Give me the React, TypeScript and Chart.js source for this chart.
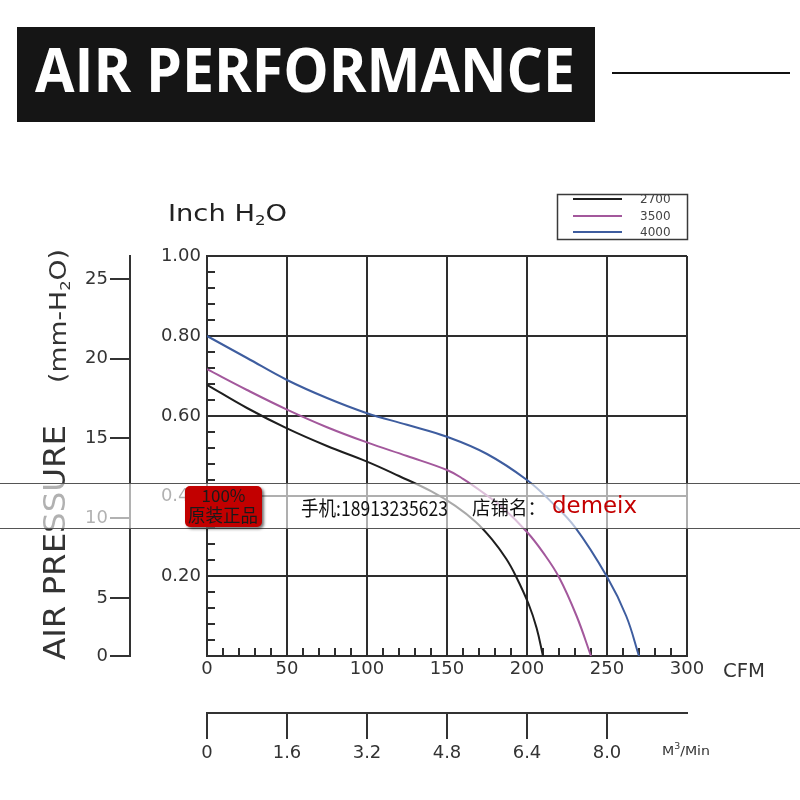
import React, { useEffect, useRef } from 'react';
import { Chart, registerables } from 'chart.js';
Chart.register(...registerables);

// ---------- data ----------
const SERIES_LABELS = ['2700', '3500', '4000'];
const SERIES_COLORS = ['#1e1e1e', '#a3589c', '#3e5d9f'];

const CFM_2700 = [0, 25, 50, 75, 100, 120, 140, 155, 168, 178, 187, 193, 201, 206, 210];
const P_2700 = [0.678, 0.62, 0.569, 0.525, 0.486, 0.45, 0.412, 0.376, 0.335, 0.292, 0.243, 0.2, 0.13, 0.07, 0];

const CFM_3500 = [0, 25, 50, 75, 100, 125, 150, 160, 172, 185, 200, 210, 220, 231, 240];
const P_3500 = [0.717, 0.665, 0.616, 0.572, 0.534, 0.5, 0.465, 0.443, 0.41, 0.37, 0.31, 0.259, 0.197, 0.1, 0];

const CFM_4000 = [0, 25, 50, 75, 100, 125, 150, 175, 200, 215, 230, 250, 262, 270];
const P_4000 = [0.8, 0.745, 0.69, 0.645, 0.607, 0.578, 0.548, 0.505, 0.44, 0.386, 0.322, 0.198, 0.1, 0];

const CFM_TICKS = [0, 50, 100, 150, 200, 250, 300];
const INCH_TICKS = [0, 0.2, 0.4, 0.6, 0.8, 1.0];
const M3_TICKS = [0, 1.6, 3.2, 4.8, 6.4, 8.0];
const M3_MAX = 9.6;
const MM_TICK_LABELS = ['0', '5', '10', '15', '20', '25'];
const MM_AXIS_MIN = 1.36;
const MM_AXIS_MAX = 26.44;

const TITLE = 'AIR PERFORMANCE';
const BADGE_LINES = ['100%', '原装正品'];
const PHONE_TEXT = '手机:18913235623';
const SHOP_TEXT = '店铺名：';
const SHOP_NAME = 'demeix';

// ---------- styles ----------
const FONT = "'DejaVu Sans'";
const CJK = "'Noto Sans CJK SC'";
const GRID = '#2e2e2e';
const TXT = '#333';

function drawParts(ctx: CanvasRenderingContext2D, parts: [string, number, number][], x: number, y: number, target: number, family: string) {
  ctx.save();
  let w = 0;
  for (const p of parts) {
    ctx.font = `${p[1]}px ${family}`;
    w += ctx.measureText(p[0]).width;
  }
  const sx = target ? target / w : 1;
  ctx.translate(x, y);
  ctx.scale(sx, 1);
  let cx = 0;
  for (const p of parts) {
    ctx.font = `${p[1]}px ${family}`;
    ctx.fillText(p[0], cx, p[2]);
    cx += ctx.measureText(p[0]).width;
  }
  ctx.restore();
}

function fitText(ctx: CanvasRenderingContext2D, text: string, x: number, y: number, target: number, font: string) {
  ctx.save();
  ctx.font = font;
  const w = ctx.measureText(text).width;
  ctx.translate(x, y);
  ctx.scale(target / w, 1);
  ctx.fillText(text, 0, 0);
  ctx.restore();
}

const minorTicks = {
  id: 'minorTicks',
  beforeDatasetsDraw(chart: any) {
    const { ctx, chartArea: ca, scales } = chart;
    const xs = scales.x, ys = scales.y;
    ctx.save();
    ctx.strokeStyle = GRID;
    ctx.lineWidth = 2;
    ctx.beginPath();
    for (let i = 0; i <= 25; i++) {
      const py = Math.round(ys.getPixelForValue(i * 0.04));
      ctx.moveTo(ca.left, py);
      ctx.lineTo(ca.left + 8, py);
    }
    for (let i = 0; i <= 30; i++) {
      const px = Math.round(xs.getPixelForValue(i * 10));
      ctx.moveTo(px, ca.bottom);
      ctx.lineTo(px, ca.bottom - 8);
    }
    ctx.stroke();
    ctx.restore();
  },
};

const decorations = {
  id: 'decorations',
  afterDraw(chart: any) {
    const ctx: CanvasRenderingContext2D = chart.ctx;
    const ca = chart.chartArea;
    ctx.save();
    ctx.textBaseline = 'alphabetic';
    ctx.textAlign = 'left';

    // banner
    ctx.fillStyle = '#151515';
    ctx.fillRect(17, 27, 578, 95);
    ctx.fillStyle = '#ffffff';
    fitText(ctx, TITLE, 35, 92, 540, "bold 61px 'Open Sans'");
    ctx.strokeStyle = '#111';
    ctx.lineWidth = 2;
    ctx.beginPath();
    ctx.moveTo(612, 73);
    ctx.lineTo(790, 73);
    ctx.stroke();

    // Inch H2O
    ctx.fillStyle = '#222';
    drawParts(ctx, [['Inch H', 23, 0], ['2', 14, 4], ['O', 23, 0]], 168, 221, 119, FONT);

    // CFM
    ctx.fillStyle = TXT;
    fitText(ctx, 'CFM', ca.right + 36, 677, 42, `19px ${FONT}`);
    // M3/Min
    drawParts(ctx, [['M', 12, 0], ['3', 8, -6], ['/Min', 12, 0]], 662, 755, 48, FONT);

    // vertical axis titles
    ctx.save();
    ctx.translate(65, 660);
    ctx.rotate(-Math.PI / 2);
    ctx.fillStyle = TXT;
    fitText(ctx, 'AIR PRESSURE', 0, 0, 235, `30px ${FONT}`);
    ctx.restore();
    ctx.save();
    ctx.translate(66, 383);
    ctx.rotate(-Math.PI / 2);
    ctx.fillStyle = TXT;
    drawParts(ctx, [['(mm-H', 23, 0], ['2', 14, 4], ['O)', 23, 0]], 0, 0, 134, FONT);
    ctx.restore();

    // legend
    ctx.fillStyle = '#fff';
    ctx.fillRect(557, 194, 131, 46);
    ctx.strokeStyle = '#3a3a3a';
    ctx.lineWidth = 1.5;
    ctx.strokeRect(557.5, 194.5, 130, 45);
    const ly = [199, 216, 232];
    chart.data.datasets.forEach((ds: any, i: number) => {
      ctx.strokeStyle = ds.borderColor;
      ctx.lineWidth = 2;
      ctx.beginPath();
      ctx.moveTo(573, ly[i]);
      ctx.lineTo(622, ly[i]);
      ctx.stroke();
      ctx.fillStyle = '#444';
      ctx.font = `12px ${FONT}`;
      ctx.textBaseline = 'middle';
      ctx.fillText(ds.label, 640, ly[i] + 1);
    });
    ctx.textBaseline = 'alphabetic';

    // watermark band
    ctx.fillStyle = 'rgba(255,255,255,0.62)';
    ctx.fillRect(0, 483, 800, 46);
    ctx.strokeStyle = '#555';
    ctx.lineWidth = 1;
    ctx.beginPath();
    ctx.moveTo(0, 483.5);
    ctx.lineTo(800, 483.5);
    ctx.moveTo(0, 528.5);
    ctx.lineTo(800, 528.5);
    ctx.stroke();

    // badge
    ctx.save();
    ctx.shadowColor = 'rgba(0,0,0,0.55)';
    ctx.shadowBlur = 3;
    ctx.shadowOffsetX = 2;
    ctx.shadowOffsetY = 2;
    ctx.fillStyle = '#c20000';
    ctx.beginPath();
    (ctx as any).roundRect(185, 486, 77, 41, 5);
    ctx.fill();
    ctx.restore();
    ctx.fillStyle = '#1a1a1a';
    ctx.textAlign = 'center';
    ctx.font = `17px ${CJK}`;
    ctx.fillText(BADGE_LINES[0], 223.5, 502);
    ctx.textAlign = 'left';
    fitText(ctx, BADGE_LINES[1], 188, 522, 70, `18px ${CJK}`);

    // contact text
    ctx.fillStyle = '#111';
    fitText(ctx, PHONE_TEXT, 301, 516, 147, `20px ${CJK}`);
    fitText(ctx, SHOP_TEXT, 472, 515, 74, `19px ${CJK}`);
    ctx.fillStyle = '#c40000';
    fitText(ctx, SHOP_NAME, 552, 513, 85, `23px ${FONT}`);

    ctx.restore();
  },
};

const SERIES = [
  { cfm: CFM_2700, p: P_2700 },
  { cfm: CFM_3500, p: P_3500 },
  { cfm: CFM_4000, p: P_4000 },
];

export default function App() {
  const ref = useRef<HTMLCanvasElement>(null);
  useEffect(() => {
    const canvas = ref.current!;
    const tickFont = { family: FONT, size: 18 };
    const chart = new Chart(canvas, {
      type: 'line',
      data: {
        datasets: SERIES.map((s, i) => ({
          label: SERIES_LABELS[i],
          data: s.cfm.map((x, j) => ({ x, y: s.p[j] })),
          borderColor: SERIES_COLORS[i],
          backgroundColor: SERIES_COLORS[i],
          borderWidth: 2,
          pointRadius: 0,
          fill: false,
          tension: 0.4,
        })),
      },
      options: {
        animation: false,
        responsive: false,
        devicePixelRatio: 1,
        layout: { padding: { left: 0, right: 113, top: 256, bottom: 27 } },
        plugins: { legend: { display: false }, tooltip: { enabled: false } },
        scales: {
          x: {
            type: 'linear',
            position: 'bottom',
            min: 0,
            max: 300,
            weight: 0,
            afterBuildTicks: (s: any) => { s.ticks = CFM_TICKS.map((v) => ({ value: v })); },
            ticks: { font: tickFont, color: TXT, padding: 3, maxRotation: 0 },
            grid: { color: GRID, lineWidth: 2, drawTicks: false },
            border: { display: true, color: GRID, width: 2 },
            afterFit: (s: any) => { s.height = 57; },
          },
          x2: {
            type: 'linear',
            axis: 'x',
            position: 'bottom',
            min: 0,
            max: M3_MAX,
            weight: 1,
            afterBuildTicks: (s: any) => { s.ticks = M3_TICKS.map((v) => ({ value: v })); },
            ticks: { font: tickFont, color: TXT, padding: 4, maxRotation: 0, callback: (v: any) => (v === 0 ? '0' : Number(v).toFixed(1)) },
            grid: { drawOnChartArea: false, color: TXT, lineWidth: 2, tickLength: 26 },
            border: { display: true, color: TXT, width: 2 },
            afterFit: (s: any) => { s.height = 60; },
          },
          y: {
            type: 'linear',
            position: 'left',
            min: 0,
            max: 1,
            weight: 0,
            afterBuildTicks: (s: any) => { s.ticks = INCH_TICKS.map((v) => ({ value: v })); },
            ticks: { font: tickFont, color: TXT, padding: 6, callback: (v: any) => (v === 0 ? '' : Number(v).toFixed(2)) },
            grid: { color: GRID, lineWidth: 2, drawTicks: false },
            border: { display: true, color: GRID, width: 2 },
            afterFit: (s: any) => { s.width = 77; },
          },
          y2: {
            type: 'linear',
            axis: 'y',
            position: 'left',
            min: MM_AXIS_MIN,
            max: MM_AXIS_MAX,
            weight: 1,
            afterBuildTicks: (s: any) => {
              s.ticks = MM_TICK_LABELS.map((l, i) => ({ value: i === 0 ? MM_AXIS_MIN : parseFloat(l) }));
            },
            ticks: { font: tickFont, color: TXT, padding: 2, callback: (_v: any, i: number) => MM_TICK_LABELS[i] },
            grid: { drawOnChartArea: false, color: TXT, lineWidth: 2, tickLength: 20 },
            border: { display: true, color: TXT, width: 2 },
            afterFit: (s: any) => { s.width = 130; },
          },
        },
      } as any,
      plugins: [minorTicks, decorations],
    });
    return () => chart.destroy();
  }, []);
  return (
    <div style={{ position: 'absolute', left: 0, top: 0, width: 800, height: 800, background: '#fff' }}>
      <canvas ref={ref} width={800} height={800} style={{ width: 800, height: 800, display: 'block' }} />
    </div>
  );
}
